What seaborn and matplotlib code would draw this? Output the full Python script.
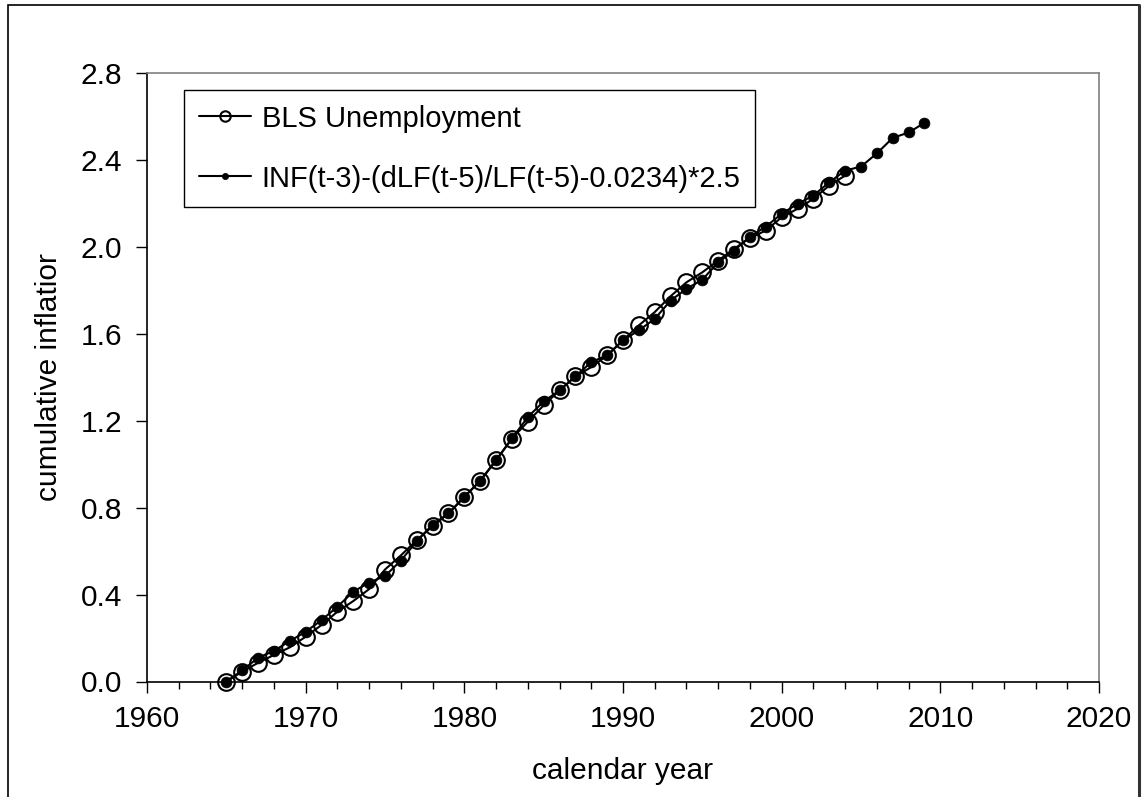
import matplotlib
matplotlib.use("Agg")
import matplotlib.pyplot as plt
import matplotlib.patches as mpatches
from matplotlib.ticker import MultipleLocator, FormatStrFormatter
import seaborn as sns

years_bls = list(range(1965, 2005))
bls_unemployment = [0.000, 0.045, 0.086, 0.122, 0.157, 0.206, 0.260, 0.321, 0.370, 0.425,
                    0.515, 0.580, 0.650, 0.714, 0.773, 0.849, 0.922, 1.017, 1.117, 1.195,
                    1.270, 1.339, 1.403, 1.446, 1.500, 1.569, 1.638, 1.699, 1.772, 1.836,
                    1.882, 1.936, 1.990, 2.040, 2.074, 2.135, 2.174, 2.220, 2.281, 2.327]

years_model = list(range(1965, 2010))
model_values = [0.000, 0.051, 0.109, 0.141, 0.186, 0.229, 0.282, 0.344, 0.413, 0.455,
                0.485, 0.556, 0.645, 0.722, 0.773, 0.849, 0.924, 1.018, 1.118, 1.216,
                1.288, 1.339, 1.403, 1.469, 1.500, 1.569, 1.615, 1.668, 1.752, 1.806,
                1.848, 1.928, 1.982, 2.046, 2.092, 2.151, 2.197, 2.235, 2.296, 2.350,
                2.368, 2.429, 2.500, 2.525, 2.569]

label_bls = "BLS Unemployment"
label_model = "INF(t-3)-(dLF(t-5)/LF(t-5)-0.0234)*2.5"
x_label = "calendar year"
y_label = "cumulative inflatior"

sns.set_theme(style="white")
plt.rcParams["font.family"] = ["Liberation Sans", "DejaVu Sans"]
plt.rcParams["text.color"] = "black"
plt.rcParams["axes.labelcolor"] = "black"
plt.rcParams["xtick.color"] = "black"
plt.rcParams["ytick.color"] = "black"

FS = 21.5
W, H = 1143, 797
fig = plt.figure(figsize=(W / 100, H / 100), dpi=100)
fig.patch.set_facecolor("white")

left, right, top, bottom = 147, 1099, 72.7, 681.5
ax = fig.add_axes([left / W, 1 - bottom / H, (right - left) / W, (bottom - top) / H])
ax.set_facecolor("white")

sns.lineplot(x=years_bls, y=bls_unemployment, ax=ax, color="black", linewidth=1.5,
             marker="o", markersize=12, markerfacecolor="none",
             markeredgecolor="black", markeredgewidth=1.5, label=label_bls,
             zorder=3, clip_on=False)
sns.lineplot(x=years_model, y=model_values, ax=ax, color="black", linewidth=1.5,
             marker="o", markersize=7.8, markerfacecolor="black",
             markeredgecolor="black", markeredgewidth=0.5, label=label_model,
             zorder=4, clip_on=False)

ax.set_xlim(1960, 2020)
ax.set_ylim(0, 2.8)
ax.xaxis.set_major_locator(MultipleLocator(10))
ax.xaxis.set_minor_locator(MultipleLocator(2))
ax.yaxis.set_major_locator(MultipleLocator(0.4))
ax.yaxis.set_major_formatter(FormatStrFormatter("%.1f"))
ax.tick_params(axis="x", which="major", direction="out", length=8, width=1,
               color="black", labelcolor="black", labelsize=FS, pad=9, bottom=True)
ax.tick_params(axis="x", which="minor", direction="out", length=5, width=1,
               color="black", bottom=True)
ax.tick_params(axis="y", which="major", direction="out", length=8, width=1,
               color="black", labelcolor="black", labelsize=FS, pad=10, left=True)
for s in ["left", "bottom"]:
    ax.spines[s].set_color("black")
    ax.spines[s].set_linewidth(1.2)
for s in ["top", "right"]:
    ax.spines[s].set_color("#808080")
    ax.spines[s].set_linewidth(1.2)
ax.grid(False)

ax.set_xlabel(x_label, fontsize=FS, color="black")
ax.set_ylabel(y_label, fontsize=FS, color="black")
ax.xaxis.set_label_coords(0.5, -0.124)
ax.yaxis.set_label_coords(-0.088, 0.5)

leg = ax.legend(loc="upper left",
                bbox_to_anchor=((184 - left) / (right - left), (bottom - 90) / (bottom - top)),
                borderaxespad=0, fontsize=21, frameon=True, fancybox=False,
                edgecolor="black", framealpha=1, handlelength=1.8,
                handletextpad=0.37, borderpad=0.5, labelspacing=1.1)
leg.get_frame().set_linewidth(1.0)
for t in leg.get_texts():
    t.set_color("black")
for h, ms in zip(leg.legend_handles, [7.5, 4.5]):
    h.set_markersize(ms)

frame = mpatches.Rectangle((8 / W, -0.05), (1139 - 8) / W, 1 - 5 / H + 0.05,
                           transform=fig.transFigure, fill=False,
                           edgecolor="black", linewidth=1.2, zorder=0)
fig.patches.append(frame)
fig.add_artist(plt.Line2D([1139 / W, 1139 / W], [0, 1 - 5 / H], transform=fig.transFigure,
                          color="#333333", linewidth=2.2))

fig.savefig("out.png", dpi=100, facecolor="white")
